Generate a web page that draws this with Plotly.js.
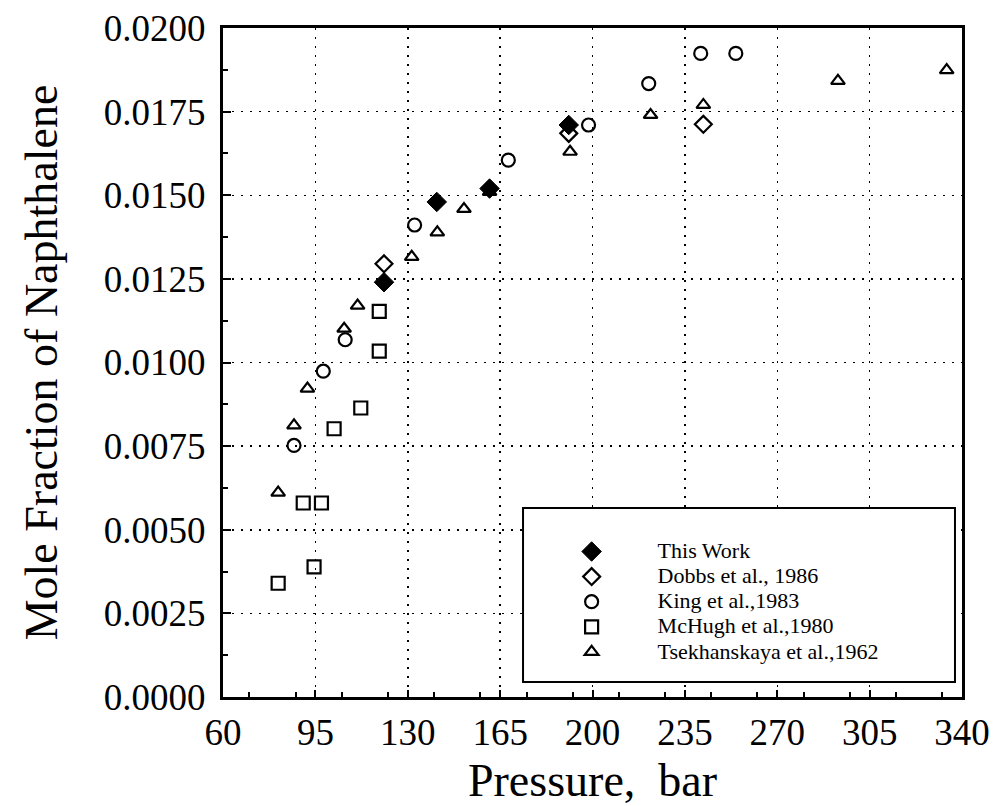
<!DOCTYPE html>
<html>
<head>
<meta charset="utf-8">
<script src="https://cdn.plot.ly/plotly-3.0.1.min.js"></script>
<style>
  html, body { margin: 0; padding: 0; background: #fff; }
  #chart { width: 998px; height: 806px; }
</style>
</head>
<body>
<div id="chart"></div>
<script>
// Pressure (bar) and mole fraction of naphthalene
var thisWorkP = [121, 141, 161, 191];
var thisWorkY = [0.0124, 0.0148, 0.0152, 0.0171];

var dobbsP = [121, 191, 242];
var dobbsY = [0.01295, 0.01685, 0.01712];

var kingP = [86.9, 98, 106.3, 132.6, 168.1, 198.5, 221.3, 241, 254.3];
var kingY = [0.00752, 0.00974, 0.01068, 0.01411, 0.01605, 0.0171, 0.01834, 0.01924, 0.01924];

var mchughP = [80.9, 94.5, 90.4, 97.3, 102.1, 112.2, 119.2, 119.2];
var mchughY = [0.0034, 0.00389, 0.0058, 0.0058, 0.00802, 0.00864, 0.01034, 0.01153];

var tsekhP = [80.9, 86.9, 92, 105.9, 111, 131.5, 141.2, 151.3, 161, 191.5, 222, 242, 293, 334.2];
var tsekhY = [0.00611, 0.00812, 0.00922, 0.01101, 0.0117, 0.01316, 0.01389, 0.01459, 0.0151, 0.0163, 0.0174, 0.0177, 0.01842, 0.01874];

var seriesNames = ["This Work", "Dobbs et al., 1986", "King et al.,1983", "McHugh et al.,1980", "Tsekhanskaya et al.,1962"];

var xTitle = "Pressure,\u00A0\u00A0bar";
var yTitle = "Mole Fraction of Naphthalene";

var FONT = "Liberation Serif, Times New Roman, serif";

function legendLabel(s) {
  return '<span style="font-size:22px">' + s + '</span>';
}

function mk(name, x, y, symbol, size) {
  return {
    type: "scatter", mode: "markers", name: legendLabel(name), x: x, y: y,
    marker: { symbol: symbol, size: size, color: "#000", line: { color: "#000", width: 2.2 } },
    cliponaxis: false
  };
}

var traces = [
  mk(seriesNames[4], tsekhP, tsekhY, "triangle-up-open", 12),
  mk(seriesNames[3], mchughP, mchughY, "square-open", 13),
  mk(seriesNames[2], kingP, kingY, "circle-open", 13),
  mk(seriesNames[1], dobbsP, dobbsY, "diamond-open", 13),
  mk(seriesNames[0], thisWorkP, thisWorkY, "diamond", 15)
];
traces[4].marker.line.width = 1;

var layout = {
  width: 998, height: 806,
  margin: { l: 223, r: 36, t: 28, b: 109 },
  paper_bgcolor: "#fff", plot_bgcolor: "#fff",
  showlegend: true,
  font: { family: FONT, color: "#000", size: 36 },
  xaxis: {
    range: [60, 340], tick0: 60, dtick: 35,
    showline: true, linecolor: "#000", linewidth: 3, mirror: true,
    ticks: "inside", ticklen: 7, tickwidth: 2, tickcolor: "#000",
    minor: { dtick: 17.5, ticks: "inside", ticklen: 5, tickwidth: 2, tickcolor: "#000", showgrid: false },
    showgrid: true, gridcolor: "#000", gridwidth: 1.5, griddash: "2px,7px",
    zeroline: false,
    ticklabelstandoff: 1,
    tickfont: { family: FONT, size: 37, color: "#000" },
    title: { text: xTitle, font: { family: FONT, size: 46, color: "#000" }, standoff: 16 }
  },
  yaxis: {
    range: [0, 0.02], tick0: 0, dtick: 0.0025, tickformat: ".4f",
    showline: true, linecolor: "#000", linewidth: 3, mirror: true,
    ticks: "inside", ticklen: 8, tickwidth: 2, tickcolor: "#000",
    minor: { dtick: 0.00125, ticks: "inside", ticklen: 5, tickwidth: 2, tickcolor: "#000", showgrid: false },
    showgrid: true, gridcolor: "#000", gridwidth: 1.5, griddash: "2px,7px",
    zeroline: false,
    ticklabelstandoff: 7,
    tickfont: { family: FONT, size: 37, color: "#000" },
    title: { text: yTitle, font: { family: FONT, size: 46, color: "#000" }, standoff: 32 }
  },
  shapes: [{
    type: "rect", xref: "paper", yref: "paper",
    x0: 0.406, x1: 0.9905, y0: 0.0224, y1: 0.2825,
    line: { color: "#000", width: 2 }, fillcolor: "#fff", layer: "above"
  }],
  legend: {
    x: 0.4095, y: 0.2437, xanchor: "left", yanchor: "top",
    bgcolor: "rgba(0,0,0,0)", borderwidth: 0,
    traceorder: "reversed",
    itemwidth: 122,
    font: { family: FONT, size: 17, color: "#000" }
  }
};

Plotly.newPlot("chart", traces, layout, { displayModeBar: false, staticPlot: true });
</script>
</body>
</html>
